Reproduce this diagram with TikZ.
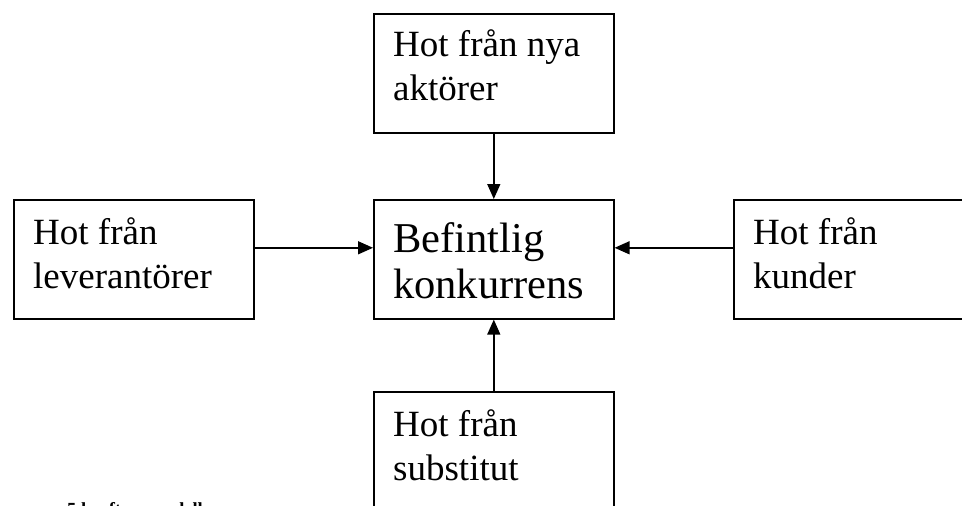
\documentclass[tikz,border=0pt]{standalone}
\usepackage{fontspec}
\setmainfont{Liberation Serif}
\usetikzlibrary{arrows.meta}
\begin{document}
\begin{tikzpicture}[x=1pt,y=-1pt,
  box/.style={draw,line width=1.6pt,minimum width=240pt,minimum height=119pt,inner sep=0pt,anchor=north west},
  lbl/.style={anchor=base west,inner sep=0pt,align=left,font=\fontsize{37}{44}\selectfont},
  biglbl/.style={anchor=base west,inner sep=0pt,align=left,font=\fontsize{42.5}{46}\selectfont},
  conn/.style={line width=1.4pt,-{Triangle[length=15pt,width=13pt]}}]
\useasboundingbox (0,0) rectangle (962,506);
\node[box] (top) at (373,13) {};
\node[box] (mid) at (373,199) {};
\node[box] (lft) at (13,199) {};
\node[box] (rgt) at (733,199) {};
\node[box] (bot) at (373,391) {};
\node[lbl] (ttop) at (393,100) {Hot från nya\\aktörer};
\node[biglbl] (tmid) at (393,298) {Befintlig\\konkurrens};
\node[lbl] (tlft) at (33,288) {Hot från\\leverantörer};
\node[lbl] (trgt) at (753,288) {Hot från\\kunder};
\node[lbl] (tbot) at (393,480) {Hot från\\substitut};
\node[anchor=base west,inner sep=0pt,font=\fontsize{18.5}{22}\selectfont\bfseries] (cap) at (67,515.5) {5 krafters modell};
\draw[conn] (top.south) -- (mid.north);
\draw[conn] (bot.north) -- (mid.south);
\draw[conn] ([yshift=11.5pt]lft.east) -- ([yshift=11.5pt]mid.west);
\draw[conn] ([yshift=11.5pt]rgt.west) -- ([yshift=11.5pt]mid.east);
\end{tikzpicture}
\end{document}
